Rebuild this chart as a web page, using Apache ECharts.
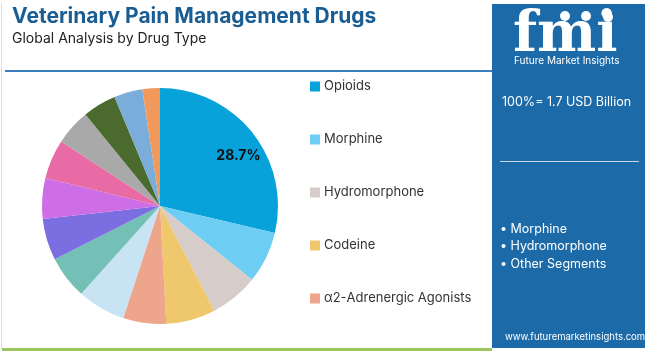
<!DOCTYPE html>
<html>
<head>
<meta charset="utf-8">
<script src="https://cdn.jsdelivr.net/npm/echarts@6/dist/echarts.min.js"></script>
<style>html,body{margin:0;padding:0;background:#fff;}#c{width:650px;height:352px;}</style>
</head>
<body>
<div id="c"></div>
<script>
const categories = ["Opioids","Morphine","Hydromorphone","Codeine","α2-Adrenergic Agonists","Dexmedetomidine","Medetomidine","Xylazine","NSAIDs","Carprofen","Meloxicam","Local Anesthetics","Gabapentinoids","Others"];
const values = [28.7,7.1,6.6,6.8,5.9,6.6,5.9,5.7,5.6,5.4,4.9,4.6,3.9,2.4];
const colors = ["#08a2db","#6ecdf3","#d6cdca","#efc76c","#eda58b","#c7e3f4","#74bfb6","#7a6ee0","#cd6ee6","#e86ba6","#a9a9a9","#4b6b2e","#7badda","#f0995a"];
const legendItems = ["Opioids","Morphine","Hydromorphone","Codeine","α2-Adrenergic Agonists"];
const labelShown = ["28.7%"];
const panelBullets = ["• Morphine","• Hydromorphone","• Other Segments"];

const FONT = "Inter, 'Open Sans', sans-serif";
const chart = echarts.init(document.getElementById('c'));
const pieData = categories.map((n,i)=>({name:n,value:values[i],itemStyle:{color:colors[i]}}));
const labelData = categories.map((n,i)=>({name:n,value:values[i],
  label:{show: i===0, formatter: labelShown[0]}}));
chart.setOption({
  animation:false,
  backgroundColor:'#fff',
  legend:{
    data: legendItems, orient:'vertical', left:305, top:75, itemGap:40,
    itemWidth:10, itemHeight:10, icon:'rect', itemStyle:{borderWidth:0},
    textStyle:{fontFamily:FONT,fontSize:13,color:'#333', padding:[0,0,0,-1]}
  },
  series:[
    {type:'pie', center:[160,206], radius:[0,118], startAngle:90, clockwise:true,
     data: pieData, label:{show:false}, labelLine:{show:false}, silent:true,
     itemStyle:{borderWidth:0}},
    {type:'pie', center:[160,206], radius:[62,118], startAngle:84, clockwise:true,
     data: labelData, silent:true, itemStyle:{color:'rgba(0,0,0,0)'},
     label:{position:'inside', fontFamily:FONT, fontSize:14, fontWeight:'bold', color:'#111'},
     labelLine:{show:false}}
  ],
  graphic:[
    {type:'rect', shape:{x:1,y:3,width:1,height:346}, style:{fill:'#ddd'}, silent:true},
    {type:'text', left:12, top:6, style:{text:'Veterinary Pain Management Drugs', font:"bold 21px "+FONT, fill:'#1a5d93'}},
    {type:'text', left:12, top:32, style:{text:'Global Analysis by Drug Type', font:"14px "+FONT, fill:'#222'}},
    {type:'rect', shape:{x:5,y:70,width:487,height:2}, style:{fill:'#3b7fbf'}},
    {type:'rect', shape:{x:2,y:348,width:490,height:3}, style:{fill:'#9cc45f'}},
    {type:'rect', shape:{x:492,y:4,width:153,height:344}, style:{fill:'#1c6aa8'}},
    {type:'text', left:513, top:8, style:{text:'fmi', font:"bold 56px 'DejaVu Serif', serif", fill:'#fff'}},
    {type:'circle', shape:{cx:565,cy:16,r:5}, style:{fill:'#fff'}},
    {type:'circle', shape:{cx:586,cy:16,r:5}, style:{fill:'#fff'}},
    {type:'circle', shape:{cx:608,cy:17,r:5}, style:{fill:'#fff'}},
    {type:'text', left:514, top:56, style:{text:'Future Market Insights', font:"10px "+FONT, fill:'#fff'}},
    {type:'text', left:502, top:96, style:{text:'100%= 1.7 USD Billion', font:"12.5px "+FONT, fill:'#fff'}},
    {type:'rect', shape:{x:500,y:161,width:139,height:1}, style:{fill:'#c8d8ea'}},
    {type:'text', left:500, top:220, style:{text:panelBullets.join('\n'), font:"12.5px "+FONT, fill:'#fff', lineHeight:17.5}},
    {type:'text', left:505, top:332, style:{text:'www.futuremarketinsights.com', font:"9.5px "+FONT, fill:'#fff'}}
  ]
});
</script>
</body>
</html>
